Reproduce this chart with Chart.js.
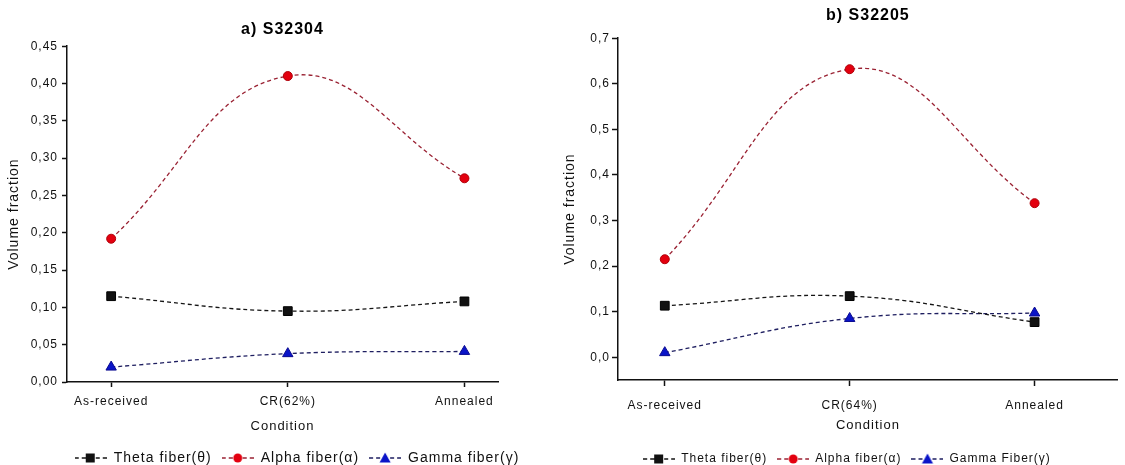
<!DOCTYPE html>
<html>
<head>
<meta charset="utf-8">
<script src="https://cdn.jsdelivr.net/npm/chart.js@4"></script>
<style>
html, body { margin: 0; padding: 0; background: #fff; }
body { width: 1125px; height: 465px; position: relative; overflow: hidden; }
.panel { position: absolute; top: 0; height: 465px; }
#left { left: 0; width: 560px; }
#right { left: 560px; width: 565px; }
</style>
</head>
<body>
<div class="panel" id="left"><canvas id="chartA"></canvas></div>
<div class="panel" id="right"><canvas id="chartB"></canvas></div>
<script>
// categorias (eje x)
const conditionsA = ["As-received", "CR(62%)", "Annealed"];
const conditionsB = ["As-received", "CR(64%)", "Annealed"];

// a) S32304
const thetaA = [0.115, 0.095, 0.108];
const alphaA = [0.192, 0.410, 0.273];
const gammaA = [0.020, 0.038, 0.041];

// b) S32205
const thetaB = [0.113, 0.134, 0.077];
const alphaB = [0.215, 0.632, 0.338];
const gammaB = [0.010, 0.085, 0.097];

const namesA = ["Theta fiber(θ)", "Alpha fiber(α)", "Gamma fiber(γ)"];
const namesB = ["Theta fiber(θ)", "Alpha fiber(α)", "Gamma Fiber(γ)"];

Chart.defaults.font.family = "'Liberation Sans', Arial, sans-serif";
Chart.defaults.color = "#111";

const styles = [
    { line: "#151515", fill: "#111", border: "#000", shape: "rect", radius: 6.2 },
    { line: "#9a2233", fill: "#e3000f", border: "#b0000a", shape: "circle", radius: 4.5 },
    { line: "#1e1e60", fill: "#0a14c8", border: "#0a0a90", shape: "triangle", radius: 6 }
];

// icono de leyenda: linea punteada + marcador
function legendIcon(st) {
    const c = document.createElement("canvas");
    c.width = 32; c.height = 14;
    const g = c.getContext("2d");
    g.strokeStyle = st.line;
    g.lineWidth = 1.5;
    g.setLineDash([4, 3]);
    g.beginPath(); g.moveTo(0, 7); g.lineTo(32, 7); g.stroke();
    g.setLineDash([]);
    g.fillStyle = st.fill;
    g.beginPath();
    if (st.shape === "rect") g.rect(11, 2.5, 9, 9);
    else if (st.shape === "circle") g.arc(16, 7, 4.5, 0, Math.PI * 2);
    else { g.moveTo(16, 1.5); g.lineTo(21.5, 11.5); g.lineTo(10.5, 11.5); g.closePath(); }
    g.fill();
    return c;
}
const icons = styles.map(legendIcon);

// espaciado de letras como en la imagen
const spacingPlugin = {
    id: "spacing",
    beforeLayout(chart) { chart.ctx.letterSpacing = "1px"; },
    beforeDraw(chart) { chart.ctx.letterSpacing = "1px"; }
};

// mueve la leyenda horizontalmente
function legendShift(dx) {
    return {
        id: "legendShift",
        afterLayout(chart) {
            if (chart.legend) {
                chart.legend.left += dx;
                chart.legend.right += dx;
            }
        }
    };
}

function makeSets(series, names) {
    return series.map((arr, k) => ({
        label: names[k],
        data: arr.map((v, i) => ({ x: i, y: v })),
        borderColor: styles[k].line,
        borderWidth: 1.3,
        borderDash: [4, 3],
        tension: 0.42,
        fill: false,
        pointStyle: styles[k].shape,
        pointRadius: styles[k].radius,
        pointBackgroundColor: styles[k].fill,
        pointBorderColor: styles[k].border,
        pointBorderWidth: 1
    }));
}

function buildChart(id, cfg) {
    const ctx = document.getElementById(id).getContext("2d");
    return new Chart(ctx, {
        type: "line",
        data: { datasets: makeSets(cfg.series, cfg.names) },
        plugins: [spacingPlugin, legendShift(cfg.legendDx)],
        options: {
            responsive: true,
            maintainAspectRatio: false,
            animation: false,
            layout: { padding: cfg.padding },
            plugins: {
                title: {
                    display: true,
                    fullSize: false,
                    text: cfg.title,
                    color: "#000",
                    font: { size: 16, weight: "bold" },
                    padding: cfg.titlePad
                },
                tooltip: { enabled: false },
                legend: {
                    position: "bottom",
                    align: "center",
                    labels: {
                        usePointStyle: true,
                        pointStyleWidth: 32,
                        padding: 10,
                        color: "#111",
                        font: { size: cfg.legendFont },
                        generateLabels: chart => chart.data.datasets.map((ds, i) => ({
                            text: ds.label,
                            pointStyle: icons[i],
                            fillStyle: styles[i].fill,
                            strokeStyle: styles[i].line,
                            lineWidth: 0,
                            hidden: false,
                            datasetIndex: i,
                            fontColor: "#111"
                        }))
                    }
                }
            },
            scales: {
                x: {
                    type: "linear",
                    min: cfg.xMin,
                    max: cfg.xMax,
                    border: { color: "#111", width: 1.5 },
                    grid: { drawOnChartArea: false, tickLength: cfg.xTick, tickColor: "#111", tickWidth: 1.5 },
                    ticks: {
                        stepSize: 1,
                        includeBounds: false,
                        autoSkip: false,
                        maxRotation: 0,
                        padding: cfg.xPad,
                        color: "#111",
                        font: { size: 12 },
                        callback: v => cfg.labels[v]
                    },
                    title: { display: true, text: "Condition", color: "#111", font: { size: 13 }, padding: cfg.xTitlePad },
                    afterFit: s => { s.height = cfg.xHeight; }
                },
                y: {
                    min: cfg.yMin,
                    max: cfg.yMax,
                    border: { color: "#111", width: 1.5 },
                    grid: { drawOnChartArea: false, tickLength: cfg.yTick, tickColor: "#111", tickWidth: 1.5 },
                    ticks: {
                        stepSize: cfg.yStep,
                        includeBounds: false,
                        padding: cfg.yPad,
                        color: "#111",
                        font: { size: 12 },
                        callback: v => v.toFixed(cfg.decimals).replace(".", ",")
                    },
                    title: { display: true, text: "Volume fraction", color: "#111", font: { size: 14 }, padding: { top: cfg.yTitleOff, bottom: 0 } },
                    afterFit: s => { s.width = cfg.yWidth; }
                }
            }
        }
    });
}

buildChart("chartA", {
    title: "a) S32304",
    series: [thetaA, alphaA, gammaA],
    names: namesA,
    labels: conditionsA,
    padding: { top: 0, left: 0, right: 62, bottom: -10 },
    titlePad: { top: 20, bottom: 7 },
    legendFont: 14, legendDx: 48,
    xMin: -0.25, xMax: 2.19, xTick: 5, xPad: 7, xHeight: 59, xTitlePad: { top: 4, bottom: 7 },
    yMin: 0, yMax: 0.45, yStep: 0.05, decimals: 2, yTick: 5, yPad: 4, yWidth: 67, yTitleOff: 6
});

buildChart("chartB", {
    title: "b) S32205",
    series: [thetaB, alphaB, gammaB],
    names: namesB,
    labels: conditionsB,
    padding: { top: 0, left: 0, right: 7, bottom: -10 },
    titlePad: { top: 6, bottom: 13 },
    legendFont: 12, legendDx: 8,
    xMin: -0.253, xMax: 2.45, xTick: 6, xPad: 12, xHeight: 63, xTitlePad: { top: 4, bottom: 10 },
    yMin: -0.05, yMax: 0.7, yStep: 0.1, decimals: 1, yTick: 6, yPad: 2, yWidth: 58, yTitleOff: 2
});
</script>
</body>
</html>
